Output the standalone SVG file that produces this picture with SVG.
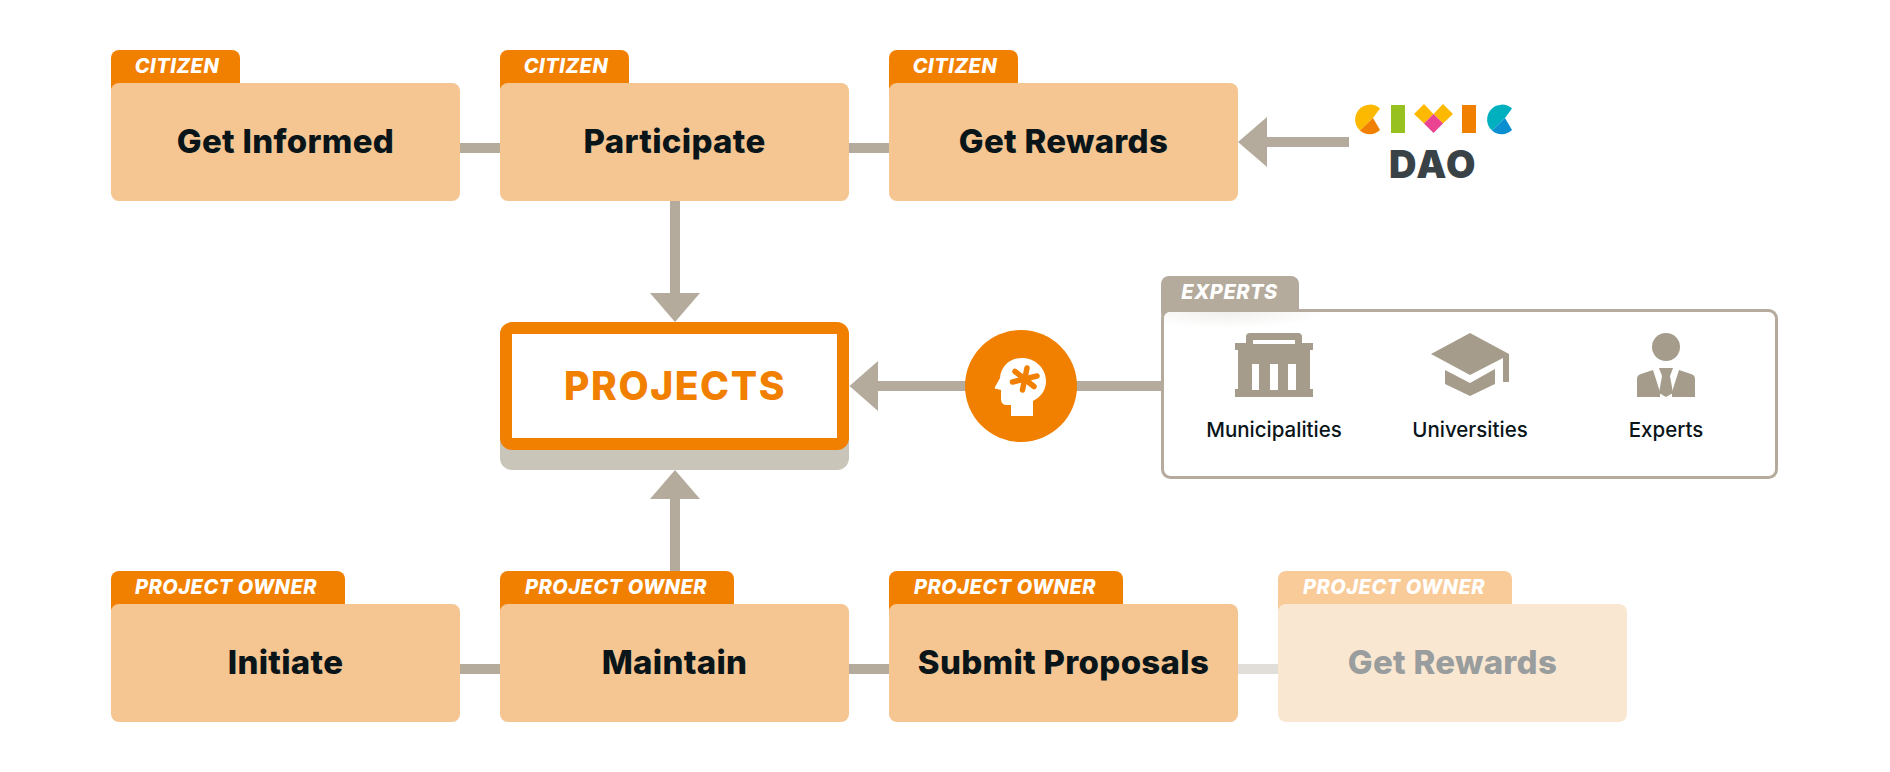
<svg xmlns="http://www.w3.org/2000/svg" width="1890" height="772" viewBox="0 0 1890 772">
<style>
text{font-family:Inter,"Liberation Sans",sans-serif;text-anchor:middle}
.tab{fill:#f28000}
.box{fill:#f5c592}
.t{font-size:33px;font-weight:800;fill:#0a1519;letter-spacing:.3px}
.l{font-size:20px;font-weight:800;font-style:italic;fill:#fff;letter-spacing:.5px}
.c{fill:#b4ab9d}
.s{font-size:20.500px;font-weight:500;fill:#0a1519}
.i{fill:#a59c8b}
</style>
<defs>
<radialGradient id="g" cx=".4" cy="0" r=".62"><stop offset="0" stop-color="#f1efec"/><stop offset="1" stop-color="#fff"/></radialGradient>
</defs>
<g id="connectors">
<rect class="c" x="460" y="143" width="40" height="10"/>
<rect class="c" x="849" y="143" width="40" height="10"/>
<rect class="c" x="1267" y="137" width="82" height="10"/>
<polygon class="c" points="1238,142 1267,117 1267,167"/>
<rect class="c" x="670" y="201" width="10" height="93"/>
<polygon class="c" points="675,322 650,293 700,293"/>
<rect class="c" x="878" y="381" width="90" height="10"/>
<polygon class="c" points="849.500,386 878,361 878,411"/>
<rect class="c" x="1070" y="381" width="93" height="10"/>
<rect class="c" x="670" y="498" width="10" height="75"/>
<polygon class="c" points="675,470 650,499 700,499"/>
<rect class="c" x="460" y="664" width="40" height="10"/>
<rect class="c" x="849" y="664" width="40" height="10"/>
<rect x="1238" y="664" width="40" height="10" fill="#e1ddd8"/>
</g>
<g id="get-informed"><rect class="tab" x="111" y="50" width="129" height="45" rx="8"/><rect class="box" x="111" y="83" width="349" height="118" rx="8"/><text class="l" x="177" y="73">CITIZEN</text><text class="t" x="285.500" y="153">Get Informed</text></g>
<g id="participate"><rect class="tab" x="500" y="50" width="129" height="45" rx="8"/><rect class="box" x="500" y="83" width="349" height="118" rx="8"/><text class="l" x="566" y="73">CITIZEN</text><text class="t" x="674.500" y="153">Participate</text></g>
<g id="get-rewards"><rect class="tab" x="889" y="50" width="129" height="45" rx="8"/><rect class="box" x="889" y="83" width="349" height="118" rx="8"/><text class="l" x="955" y="73">CITIZEN</text><text class="t" x="1063.500" y="153">Get Rewards</text></g>
<g id="civic-dao">
<path d="M1380 108.500 A14.500 14.500 0 1 0 1360 130.500 L1373 118 Z" fill="#fdb900"/>
<path d="M1380 130 A14.500 14.500 0 0 1 1360 130.500 L1373 118 Z" fill="#f28000"/>
<rect x="1391" y="105" width="14" height="28" fill="#97c11f"/>
<polygon points="1414,114 1424,104 1433.500,114 1424,123.500" fill="#fdb900"/>
<polygon points="1433.500,114 1443,104 1453,114 1443,123.500" fill="#fdb900"/>
<polygon points="1433.500,114 1443,123.500 1433.500,133 1424,123.500" fill="#ea4392"/>
<rect x="1462" y="105" width="14" height="28" fill="#f28000"/>
<path d="M1512 108.500 A14.500 14.500 0 1 0 1492 130.500 L1505 118 Z" fill="#00b0bf"/>
<path d="M1512 130 A14.500 14.500 0 0 1 1492 130.500 L1505 118 Z" fill="#0a8fd0"/>
<text x="1433" y="178" style="font-size:38px;font-weight:900;fill:#394246;letter-spacing:1.500px">DAO</text>
</g>
<g id="projects">
<rect x="500" y="370" width="349" height="100" rx="12" fill="#cac5b9"/>
<rect x="506" y="328" width="337" height="116" rx="6" fill="#fff" stroke="#f28000" stroke-width="12"/>
<rect x="512" y="334" width="325" height="104" fill="#fff"/>
<text x="675" y="400" style="font-size:39px;font-weight:800;fill:#f28000;letter-spacing:1.600px">PROJECTS</text>
</g>
<g id="expert-head">
<circle cx="1021" cy="386" r="56" fill="#f28000"/>
<path d="M1033 416 V401 C1041 397 1046 390 1046 381 C1046 368 1035 358 1022 358 C1010 358 1001 366 1000 378 L995 387 Q994 389 997 389 L1001 390 V399 Q1001 405 1007 405 H1011 V416 Z" fill="#fff"/>
<path d="M1027 368 L1022.500 390 M1015 371.500 L1034 386.500 M1012.500 382 L1037 376" stroke="#f28000" stroke-width="5.500" stroke-linecap="round" fill="none"/>
</g>
<g id="experts">
<rect class="c" x="1161" y="276" width="138" height="45" rx="8"/>
<rect x="1162.500" y="310.500" width="614" height="167" rx="8" fill="#fff" stroke="#b4ab9d" stroke-width="3"/>
<rect x="1164" y="312" width="160" height="26" rx="6" fill="url(#g)"/>
<text class="l" x="1229.500" y="299">EXPERTS</text>
<g id="municipalities">
<path class="i" d="M1246 343 V337 Q1246 333 1250 333 H1298 Q1302 333 1302 337 V343 H1313 V350 H1310 V389 H1313 V397 H1235 V389 H1238 V350 H1235 V343 Z M1253 340 V344 H1295 V340 Z M1252 364 V390 H1259 V364 Z M1270 364 V390 H1278 V364 Z M1288 364 V390 H1296 V364 Z" fill-rule="evenodd"/>
<text class="s" x="1274" y="437">Municipalities</text>
</g>
<g id="universities">
<polygon class="i" points="1470,333 1509,354 1509,382 1503,382 1503,358 1470,375 1431,354"/>
<polygon class="i" points="1445,370 1470,383 1495,369 1495,384 1470,396 1445,384"/>
<text class="s" x="1470" y="437">Universities</text>
</g>
<g id="experts-person">
<circle class="i" cx="1666" cy="347" r="14"/>
<path class="i" d="M1653 370 L1660 392 V397 H1637 V379 Q1637 375 1641 374 Z M1679 370 L1672 392 V397 H1695 V379 Q1695 375 1691 374 Z"/>
<polygon class="i" points="1659,368 1673,368 1670,376 1673,393 1666,397 1659,393 1662,376"/>
<text class="s" x="1666" y="437">Experts</text>
</g>
</g>
<g id="initiate"><rect class="tab" x="111" y="571" width="234" height="45" rx="8"/><rect class="box" x="111" y="604" width="349" height="118" rx="8"/><text class="l" x="226" y="594">PROJECT OWNER</text><text class="t" x="285.500" y="674">Initiate</text></g>
<g id="maintain"><rect class="tab" x="500" y="571" width="234" height="45" rx="8"/><rect class="box" x="500" y="604" width="349" height="118" rx="8"/><text class="l" x="616" y="594">PROJECT OWNER</text><text class="t" x="674.500" y="674">Maintain</text></g>
<g id="submit-proposals"><rect class="tab" x="889" y="571" width="234" height="45" rx="8"/><rect class="box" x="889" y="604" width="349" height="118" rx="8"/><text class="l" x="1005" y="594">PROJECT OWNER</text><text class="t" x="1063.500" y="674">Submit Proposals</text></g>
<g id="get-rewards-owner"><rect x="1278" y="571" width="234" height="45" rx="8" fill="#f9cb99"/><rect x="1278" y="604" width="349" height="118" rx="8" fill="#fae7d2"/><text class="l" x="1394" y="594">PROJECT OWNER</text><text class="t" x="1452.500" y="674" style="fill:#999d9d">Get Rewards</text></g>
</svg>
